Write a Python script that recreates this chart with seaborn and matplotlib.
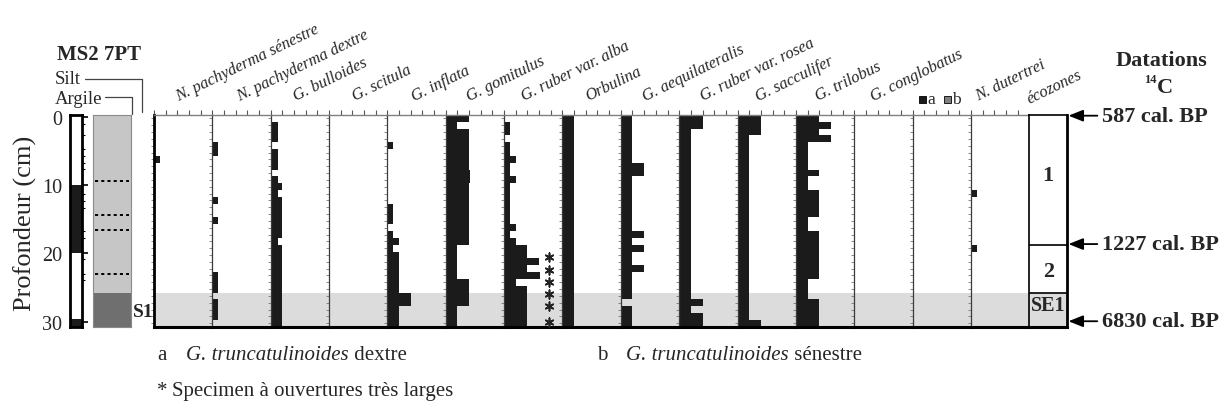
import matplotlib
matplotlib.use("Agg")
import numpy as np
import pandas as pd
import matplotlib.pyplot as plt
from matplotlib.patches import Rectangle
import seaborn as sns

sns.set_style("white")
plt.rcParams["font.family"] = ["Liberation Serif", "DejaVu Sans"]

# ---------------------------------------------------------------------------
# Core MS2 7PT: planktonic foraminifera, relative abundance (%) per 1 cm sample
# ---------------------------------------------------------------------------
depth = list(range(31))

n_pachyderma_sen = [0, 0, 0, 0, 0, 0, 5, 0, 0, 0,
                    0, 0, 0, 0, 0, 0, 0, 0, 0, 0,
                    0, 0, 0, 0, 0, 0, 0, 0, 0, 0, 0]
n_pachyderma_dex = [0, 0, 0, 0, 5, 5, 0, 0, 0, 0,
                    0, 0, 5, 0, 0, 5, 0, 0, 0, 0,
                    0, 0, 0, 5, 5, 5, 0, 5, 5, 5, 0]
g_bulloides = [0, 6, 6, 6, 0, 6, 6, 6, 0, 6,
               10, 6, 10, 10, 10, 10, 10, 10, 6, 10,
               10, 10, 10, 10, 10, 10, 10, 10, 10, 10, 10]
g_scitula = [0, 0, 0, 0, 0, 0, 0, 0, 0, 0,
             0, 0, 0, 0, 0, 0, 0, 0, 0, 0,
             0, 0, 0, 0, 0, 0, 0, 0, 0, 0, 0]
g_inflata = [0, 0, 0, 0, 5, 0, 0, 0, 0, 0,
             0, 0, 0, 5, 5, 5, 0, 5, 10, 5,
             10, 10, 10, 10, 10, 10, 20, 20, 10, 10, 10]
g_gomitulus = [20, 10, 20, 20, 20, 20, 20, 20, 21, 21,
               20, 20, 20, 20, 20, 20, 20, 20, 20, 10,
               10, 10, 10, 10, 20, 20, 20, 20, 10, 10, 10]
g_ruber_alba = [0, 5, 5, 0, 5, 5, 10, 5, 5, 10,
                5, 5, 5, 5, 5, 5, 10, 5, 10, 20,
                20, 30, 20, 31, 10, 20, 20, 20, 20, 20, 20]
orbulina = [10, 10, 10, 10, 10, 10, 10, 10, 10, 10,
            10, 10, 10, 10, 10, 10, 10, 10, 10, 10,
            10, 10, 10, 10, 10, 10, 10, 10, 10, 10, 10]
g_aequilateralis = [10, 10, 10, 10, 10, 10, 10, 20, 20, 10,
                    10, 10, 10, 10, 10, 10, 10, 20, 10, 20,
                    10, 10, 20, 10, 10, 10, 10, 0, 10, 10, 10]
g_ruber_rosea = [20, 20, 10, 10, 10, 10, 10, 10, 10, 10,
                 10, 10, 10, 10, 10, 10, 10, 10, 10, 10,
                 10, 10, 10, 10, 10, 10, 10, 20, 10, 20, 20]
g_sacculifer = [20, 20, 20, 10, 10, 10, 10, 10, 10, 10,
                10, 10, 10, 10, 10, 10, 10, 10, 10, 10,
                10, 10, 10, 10, 10, 10, 10, 10, 10, 10, 20]
g_trilobus = [20, 30, 20, 30, 10, 10, 10, 10, 20, 10,
              10, 20, 20, 20, 20, 10, 10, 20, 20, 20,
              20, 20, 20, 20, 10, 10, 10, 20, 20, 20, 20]
g_conglobatus = [0, 0, 0, 0, 0, 0, 0, 0, 0, 0,
                 0, 0, 0, 0, 0, 0, 0, 0, 0, 0,
                 0, 0, 0, 0, 0, 0, 0, 0, 0, 0, 0]
g_trunc_dextre = [0, 0, 0, 0, 0, 0, 0, 0, 0, 0,
                  0, 0, 0, 0, 0, 0, 0, 0, 0, 0,
                  0, 0, 0, 0, 0, 0, 0, 0, 0, 0, 0]
g_trunc_senestre = [0, 0, 0, 0, 0, 0, 0, 0, 0, 0,
                    0, 0, 0, 0, 0, 0, 0, 0, 0, 0,
                    0, 0, 0, 0, 0, 0, 0, 0, 0, 0, 0]
n_dutertrei = [0, 0, 0, 0, 0, 0, 0, 0, 0, 0,
               0, 5, 0, 0, 0, 0, 0, 0, 0, 5,
               0, 0, 0, 0, 0, 0, 0, 0, 0, 0, 0]

taxa_names = ["N. pachyderma sénestre", "N. pachyderma dextre", "G. bulloides",
              "G. scitula", "G. inflata", "G. gomitulus", "G. ruber var. alba",
              "Orbulina", "G. aequilateralis", "G. ruber var. rosea",
              "G. sacculifer", "G. trilobus", "G. conglobatus",
              "G. truncatulinoides", "N. dutertrei"]
taxa_values = [n_pachyderma_sen, n_pachyderma_dex, g_bulloides, g_scitula,
               g_inflata, g_gomitulus, g_ruber_alba, orbulina, g_aequilateralis,
               g_ruber_rosea, g_sacculifer, g_trilobus, g_conglobatus,
               None, n_dutertrei]

# specimens with very wide apertures (G. ruber var. alba)
wide_aperture_depth = [20.3, 22.2, 24.0, 25.7, 27.5, 29.8]
wide_aperture_x = 38.5

# sapropel S1 and ecozones
s1_top, s1_bottom = 25.5, 30.5
ecozone_names = ["1", "2", "SE1"]
ecozone_top = [-0.5, 18.5, 25.5]
ecozone_bottom = [18.5, 25.5, 30.5]

# 14C ages
date_labels = ["587 cal. BP", "1227 cal. BP", "6830 cal. BP"]
date_depth = [-0.4, 18.4, 29.7]

# core log (own depth scale)
core_ticks = [0, 10, 20, 30]
core_minor_ticks = [1.0, 2.7, 4.7, 5.7, 6.7, 7.6, 11.3, 12.3, 13.3,
                    16.7, 17.7, 20.8, 23.0, 23.9]
core_black_top = [10, 29.6]
core_black_bottom = [20, 30.73]
silt_beds = [9.4, 14.3, 16.6, 23.0]
sapropel_log_top = 25.8

# ---------------------------------------------------------------------------
W, H = 1226, 410
fig = plt.figure(figsize=(W / 100, H / 100), dpi=100)


def px_axes(x0, y0, x1, y1, **kw):
    return fig.add_axes([x0 / W, 1 - y1 / H, (x1 - x0) / W, (y1 - y0) / H], **kw)


BAR = "#1b1b1b"
BAND = "#dcdcdc"

PANEL_L, PANEL_R, PANEL_T, PANEL_B = 154.0, 1029.3, 116.0, 327.7
col_w = (PANEL_R - PANEL_L) / len(taxa_names)
DLIM = (30.5, -0.5)

rows = []
for name, vals in zip(taxa_names, taxa_values):
    if vals is None:
        continue
    for d, v in zip(depth, vals):
        rows.append((name, d, v))
df = pd.DataFrame(rows, columns=["taxon", "depth", "abundance"])

trunc = pd.DataFrame({
    "depth": depth + depth,
    "abundance": g_trunc_dextre + g_trunc_senestre,
    "variant": ["a"] * len(depth) + ["b"] * len(depth),
})

label_offset = [24, 27, 25, 26, 27, 23, 20, 26, 24, 24, 21, 22, 19, 0, 7]
LABEL_Y = 101
LABEL_ROT = 26
LABEL_SIZE = 11.8

ov = fig.add_axes([0, 0, 1, 1], zorder=5)
ov.set_xlim(0, W)
ov.set_ylim(H, 0)
ov.set_axis_off()

for i, name in enumerate(taxa_names):
    x0 = PANEL_L + i * col_w
    ax = px_axes(x0, PANEL_T, x0 + col_w, PANEL_B)
    ax.axhspan(s1_top, s1_bottom, color=BAND, lw=0, zorder=0)
    if name == "G. truncatulinoides":
        sns.barplot(data=trunc, x="abundance", y="depth", hue="variant",
                    palette={"a": BAR, "b": "#808080"}, orient="y",
                    native_scale=True, dodge=False, width=1.0, saturation=1,
                    errorbar=None, linewidth=0, legend=False, ax=ax)
    else:
        sub = df[df["taxon"] == name]
        sns.barplot(data=sub, x="abundance", y="depth", orient="y",
                    native_scale=True, width=1.0, color=BAR, saturation=1,
                    errorbar=None, linewidth=0, ax=ax)
    ax.set_xlim(0, 50)
    ax.set_ylim(*DLIM)
    ax.set_xlabel("")
    ax.set_ylabel("")
    ax.xaxis.tick_top()
    ax.set_xticks([0, 10, 20, 30, 40])
    ax.set_xticklabels([])
    ax.set_yticks(depth)
    ax.set_yticklabels([])
    ax.tick_params(axis="x", which="both", top=True, bottom=False,
                   direction="out", length=3.5, width=0.8, color="#555555")
    ax.tick_params(axis="y", which="both", left=True, right=False,
                   direction="out", length=2, width=0.6, color="#777777")
    ax.set_facecolor("none")
    ax.spines["right"].set_visible(False)
    ax.spines["left"].set_color("black" if i == 0 else "#3a3a3a")
    ax.spines["left"].set_linewidth(2.0 if i == 0 else 0.9)
    ax.spines["top"].set_color("#808080")
    ax.spines["top"].set_linewidth(1.0)
    ax.spines["bottom"].set_color("black")
    ax.spines["bottom"].set_linewidth(2.2)

    if name == "G. ruber var. alba":
        ax.scatter([wide_aperture_x] * len(wide_aperture_depth),
                   wide_aperture_depth, marker=(6, 2, 0), s=38,
                   color="#222222", linewidths=1.2, clip_on=False, zorder=4)

    # column header
    if name == "G. truncatulinoides":
        ov.add_patch(Rectangle((919, 97), 7, 7, facecolor=BAR,
                               edgecolor="black", lw=0.6))
        ov.text(927.5, LABEL_Y + 3, "a", fontsize=12.5, va="baseline", ha="left")
        ov.add_patch(Rectangle((944, 97), 7, 7, facecolor="#808080",
                               edgecolor="black", lw=0.6))
        ov.text(952.5, LABEL_Y + 3, "b", fontsize=12.5, va="baseline", ha="left")
    else:
        ov.text(x0 + label_offset[i], LABEL_Y, name, fontsize=LABEL_SIZE,
                style="italic", rotation=LABEL_ROT, rotation_mode="anchor",
                ha="left", va="baseline")

# ecozones column
ax_e = px_axes(PANEL_R, PANEL_T, 1067.3, PANEL_B)
ax_e.set_xlim(0, 1)
ax_e.set_ylim(*DLIM)
ax_e.set_xticks([])
ax_e.set_yticks([])
for top, bot, lab in zip(ecozone_top, ecozone_bottom, ecozone_names):
    if lab.startswith("SE"):
        ax_e.axhspan(top, bot, color=BAND, lw=0, zorder=0)
    if top > DLIM[1]:
        ax_e.axhline(top, color="black", lw=1.2)
ecozone_label_depth = [8.3, 22.3, 27.3]
for lab, d in zip(ecozone_names, ecozone_label_depth):
    ax_e.text(0.5, d, lab, ha="center", va="center",
              fontsize=16 if len(lab) == 1 else 14.5, fontweight="bold")
for side in ax_e.spines:
    ax_e.spines[side].set_color("black")
ax_e.spines["left"].set_linewidth(1.2)
ax_e.spines["top"].set_linewidth(1.2)
ax_e.spines["right"].set_linewidth(2.0)
ax_e.spines["bottom"].set_linewidth(2.2)
ov.text(1030, LABEL_Y + 3, "écozones", fontsize=LABEL_SIZE, style="italic",
        rotation=LABEL_ROT, rotation_mode="anchor", ha="left", va="baseline")

ew = 1067.3 - PANEL_R
for lab, d in zip(date_labels, date_depth):
    ax_e.annotate(lab, xy=((1068.5 - PANEL_R) / ew, d),
                  xycoords=("axes fraction", "data"),
                  xytext=((1102 - PANEL_R) / ew, d),
                  textcoords=("axes fraction", "data"),
                  ha="left", va="center", fontsize=16, fontweight="bold",
                  annotation_clip=False,
                  arrowprops=dict(arrowstyle="-|>,head_length=0.55,head_width=0.22",
                                  color="black", lw=1.3, shrinkA=1, shrinkB=0))

ov.text(1162, 61, "Datations", ha="center", va="center", fontsize=16,
        fontweight="bold")
ov.text(1157, 80, "14", ha="right", va="center", fontsize=9, fontweight="bold")
ov.text(1157, 88, "C", ha="left", va="center", fontsize=16, fontweight="bold")

# core log: depth scale with lithology code
CLIM = (30.73, -0.29)
ax_c = px_axes(70, PANEL_T, 81.7, PANEL_B)
ax_c.set_xlim(0, 1)
ax_c.set_ylim(*CLIM)
ax_c.barh(core_black_top, [1] * len(core_black_top),
          height=[b - t for t, b in zip(core_black_top, core_black_bottom)],
          left=0, align="edge", color=BAR, lw=0)
ax_c.set_xticks([])
ax_c.set_yticks(core_ticks)
ax_c.set_yticklabels([str(t) for t in core_ticks], fontsize=14.5)
ax_c.set_yticks(core_minor_ticks, minor=True)
ax_c.tick_params(axis="y", which="both", left=False, right=True,
                 labelleft=True, labelright=False, direction="out",
                 color="black", pad=1.5)
ax_c.tick_params(axis="y", which="major", length=4, width=1.2)
ax_c.tick_params(axis="y", which="minor", length=2.5, width=0.8)
for side in ax_c.spines:
    ax_c.spines[side].set_color("black")
    ax_c.spines[side].set_linewidth(2.0)

ax_l = px_axes(93, PANEL_T, 131, PANEL_B)
ax_l.set_xlim(0, 1)
ax_l.set_ylim(*CLIM)
ax_l.axhspan(CLIM[1], sapropel_log_top, color="#c6c6c6", lw=0)
ax_l.axhspan(sapropel_log_top, CLIM[0], color="#6f6f6f", lw=0)
ax_l.hlines(silt_beds, 0.04, 0.96, colors="black", lw=1.4,
            linestyles=(0, (1.6, 1.6)))
ax_l.set_xticks([])
ax_l.set_yticks([])
for side in ax_l.spines:
    ax_l.spines[side].set_color("#8a8a8a")
    ax_l.spines[side].set_linewidth(0.8)

ov.text(25, 223, "Profondeur (cm)", rotation=90, ha="center", va="center",
        fontsize=19)
ov.text(99, 55, "MS2 7PT", ha="center", va="center", fontsize=15,
        fontweight="bold")
ov.text(55, 79, "Silt", ha="left", va="center", fontsize=13.5)
ov.plot([85, 142, 142], [80, 80, 113], color="#444444", lw=0.9)
ov.text(55, 99, "Argile", ha="left", va="center", fontsize=13.5)
ov.plot([105, 132, 132], [98, 98, 115], color="#444444", lw=0.9)
ov.text(133, 313, "S1", ha="left", va="center", fontsize=14, fontweight="bold")

# legend lines under the diagram
renderer = fig.canvas.get_renderer()


def text_run(x, y, parts, size):
    for txt, st in parts:
        t = ov.text(x, y, txt, fontsize=size, style=st, ha="left", va="baseline")
        x = t.get_window_extent(renderer).x1
    return x


LEG = 15
text_run(157, 360, [("a", "normal")], LEG)
text_run(186, 360, [("G. truncatulinoides", "italic"), (" dextre", "normal")], LEG)
text_run(597, 360, [("b", "normal")], LEG)
text_run(626, 360, [("G. truncatulinoides", "italic"), (" sénestre", "normal")], LEG)
text_run(157, 396, [("*", "normal")], LEG)
text_run(172, 396, [("Specimen à ouvertures très larges", "normal")], LEG)

fig.savefig("out.png", dpi=100)
